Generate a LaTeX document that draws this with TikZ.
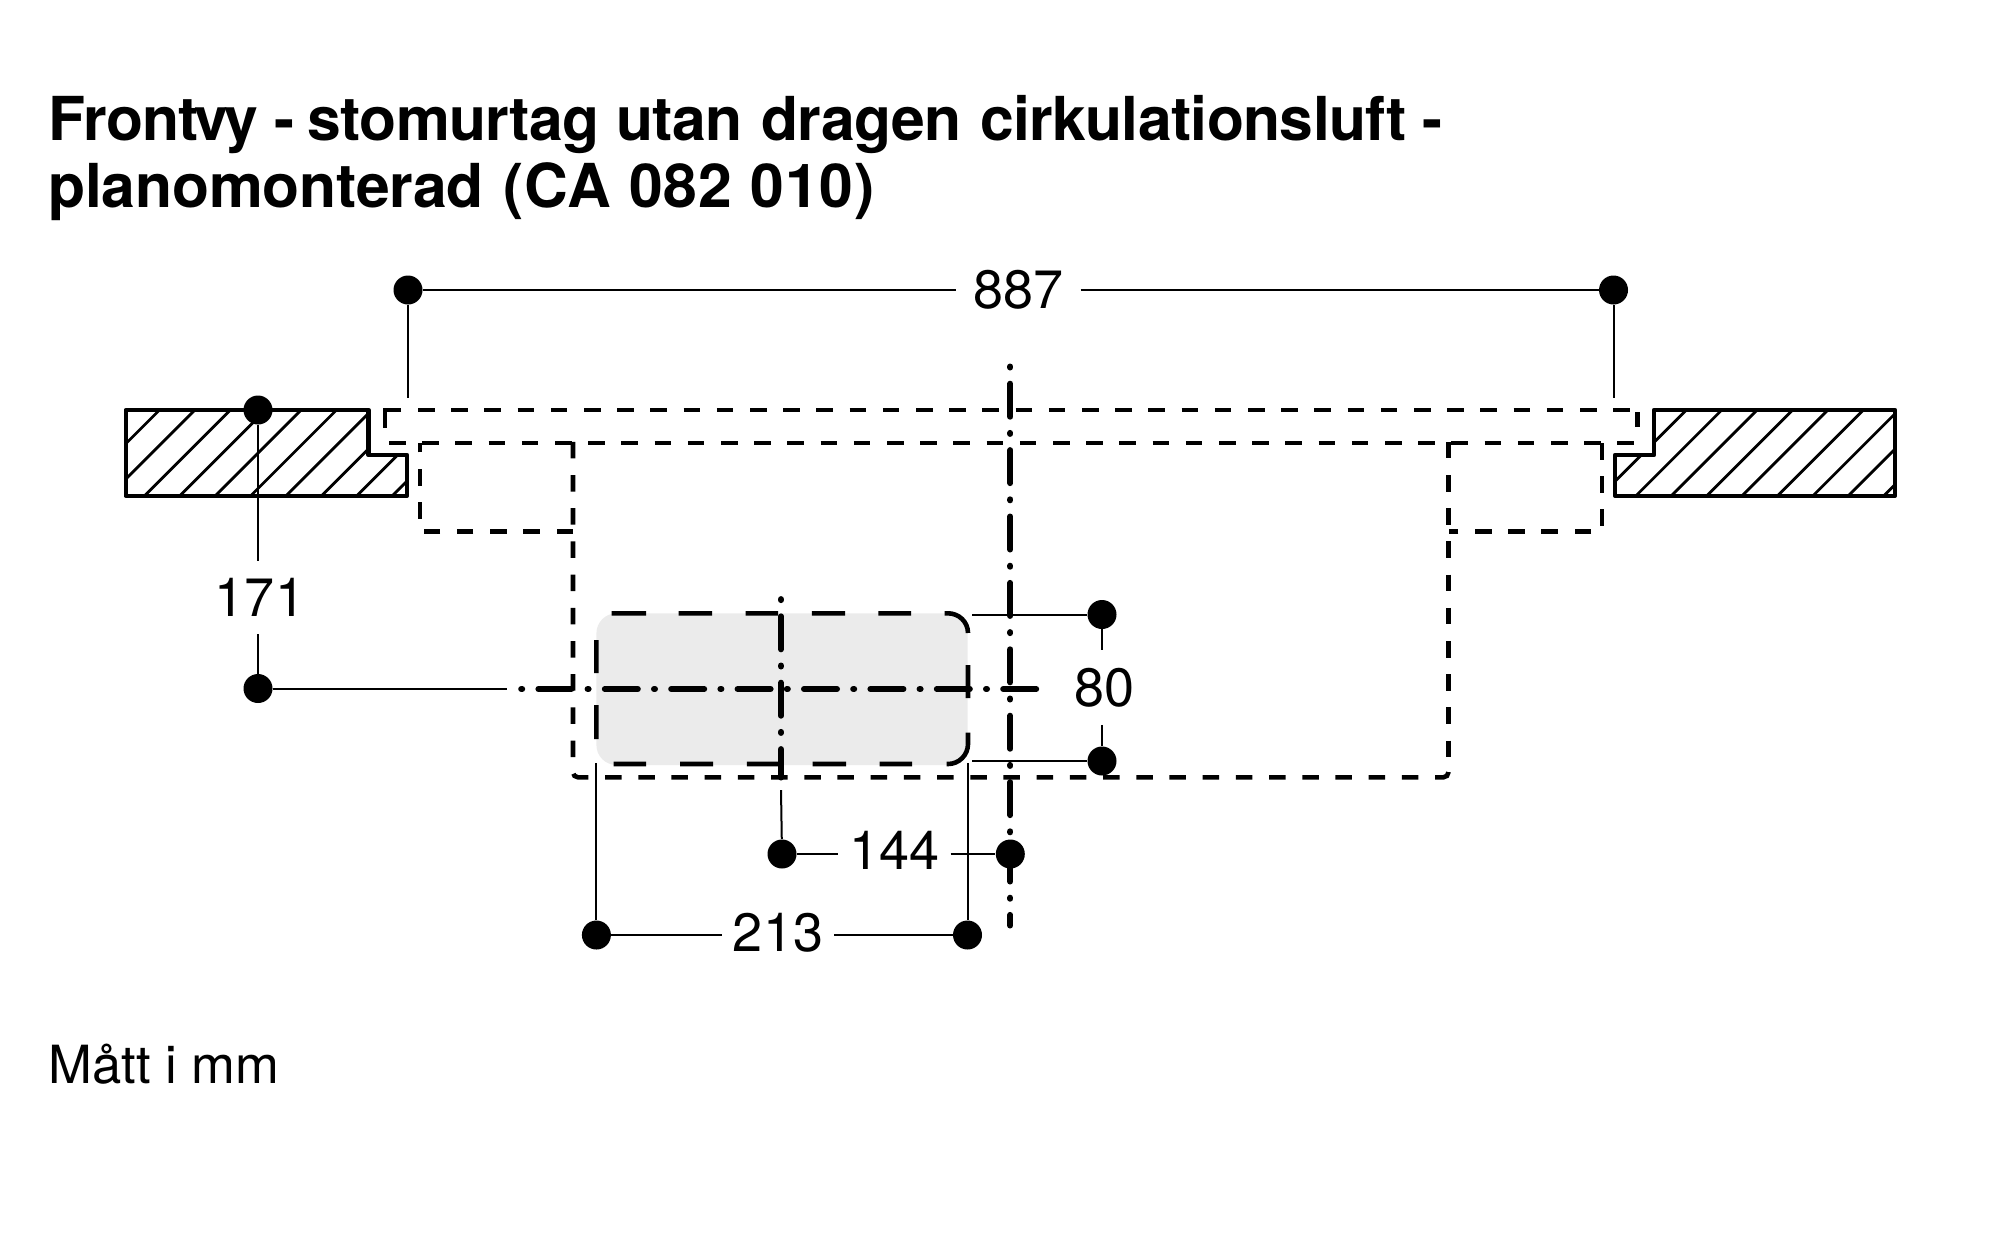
\documentclass[tikz,border=0pt]{standalone}
\usepackage{fontspec}
\setmainfont{TeX Gyre Heros}
\tikzset{
  px/.style={x=0.5pt,y=-0.5pt},
  thinline/.style={line width=1pt,black},
  hatchline/.style={line width=1.4pt,black},
  outline/.style={line width=2.2pt,black,line join=round},
  dashline/.style={line width=2.3pt,black,dash pattern=on 8.25pt off 8.35pt},
  solidstub/.style={line width=2.3pt,black},
  centerline/.style={line width=3pt,black,line cap=round,dash pattern=on 0.5pt off 8.1pt on 16.5pt off 8.1pt},
  dimdot/.style={circle,fill=black,inner sep=0pt,minimum size=14.5pt},
  dimtext/.style={font=\fontsize{27}{30}\selectfont,inner xsep=8.3pt,inner ysep=8.7pt},
  titletext/.style={font=\fontsize{30.3}{33.35}\selectfont\bfseries,align=left,anchor=north west,inner sep=0pt},
  notetext/.style={font=\fontsize{26.3}{30}\selectfont,anchor=base west,inner sep=0pt},
}
\begin{document}
\begin{tikzpicture}[px]
\useasboundingbox (0,0) rectangle (2000,1249);
% title and note
\node[titletext] (title) at (48,95) {{\addfontfeature{LetterSpace=-1.0}Fron\kern-0.7pt t\kern-2pt v\kern-2pt y - \kern-1.5pt stomurtag utan \kern1.3pt dragen \kern1.3pt cirkulationsluft -}\\{\addfontfeature{LetterSpace=-0.3}planomonterad \kern1.3pt}{\addfontfeature{LetterSpace=1.8}(CA 082 010)}};
\node[notetext] (note) at (48,1083.5) {Mått i mm};
% grey field
\fill[black!8,rounded corners=10pt] (596.4,613.3) rectangle (967.6,765);
% wall sections
\begin{scope}
\clip (125.7,410) -- (368.6,410) -- (368.6,455) -- (407,455) -- (407,495.7) -- (125.7,495.7) -- cycle;
\foreach \cc in {569.5,604.9,640.3,675.7,711.1,746.5,781.9,817.3,852.7,888.1}
  \draw[hatchline] ({\cc-400},400) -- ({\cc-500},500);
\end{scope}
\draw[outline] (125.7,410) -- (368.6,410) -- (368.6,455) -- (407,455) -- (407,495.7) -- (125.7,495.7) -- cycle;
\begin{scope}
\clip (1654,410) -- (1895,410) -- (1895,495.7) -- (1615,495.7) -- (1615,455) -- (1654,455) -- cycle;
\foreach \cc in {2096.3,2131.7,2167.1,2202.5,2237.9,2273.3,2308.7,2344.1,2379.5}
  \draw[hatchline] ({\cc-400},400) -- ({\cc-500},500);
\end{scope}
\draw[outline] (1654,410) -- (1895,410) -- (1895,495.7) -- (1615,495.7) -- (1615,455) -- (1654,455) -- cycle;
% hidden contours
\draw[solidstub] (401,410) -- (385,410) -- (385,428);
\draw[dashline] (418,410) -- (1631,410);
\draw[solidstub] (1637.6,412) -- (1637.6,427);
\draw[dashline] (389,443) -- (1634.5,443);
\draw[dashline] (573,531.7) -- (420,531.7) -- (420,443);
\draw[dashline] (1602,443) -- (1602,531.7) -- (1448.6,531.7);
\draw[dashline,rounded corners=2.5pt] (573,441.8) -- (573,777.3) -- (1448.4,777.3) -- (1448.4,772);
\draw[dashline] (1448.4,441.8) -- (1448.4,760);
% cut-out outline, dashed with rounded right corners
\draw[solidstub] (611.7,613.3) -- (646,613.3) (678.6,613.3) -- (712,613.3) (745.6,613.3) -- (778,613.3) (811.8,613.3) -- (845,613.3) (878.4,613.3) -- (911,613.3)
  (944.6,613.3) -- (948,613.3) .. controls (959,613.3) and (968,622) .. (968,633)
  (968,665) -- (968,698)
  (968,732.7) -- (968,744) .. controls (968,755) and (959,764) .. (948,764) -- (946.5,764)
  (879.6,764) -- (912,764) (812.6,764) -- (846,764) (746.8,764) -- (780,764) (680.2,764) -- (713,764) (613.6,764) -- (646,764)
  (596.4,640) -- (596.4,673) (596.4,705) -- (596.4,739);
% centre lines
\draw[centerline] (1010.3,366.5) -- (1010.3,925.5);
\draw[centerline] (781,599.1) -- (781,777.5);
\draw[centerline] (521.2,689) -- (1036.5,689);
% dimension dots
\node[dimdot] (a1) at (408,290) {};
\node[dimdot] (a2) at (1613.5,290) {};
\node[dimdot] (b1) at (258,410) {};
\node[dimdot] (b2) at (258,688.5) {};
\node[dimdot] (c1) at (1102,614.5) {};
\node[dimdot] (c2) at (1102,761) {};
\node[dimdot] (d1) at (782,854) {};
\node[dimdot] (d2) at (1010.3,854) {};
\node[dimdot] (e1) at (596.4,935) {};
\node[dimdot] (e2) at (967.5,935) {};
% dimension texts
\node[dimtext] (t887) at (1018.5,290) {887};
\node[dimtext] (t171) at (260,597.5) {171};
\node[dimtext] (t80) at (1104.5,687.5) {80};
\node[dimtext,inner xsep=5.3pt] (t144) at (894.5,850.5) {144};
\node[dimtext,inner xsep=5.3pt] (t213) at (778,933) {213};
% free ends of the connectors
\coordinate (a1e) at (408,398);
\coordinate (a2e) at (1613.5,398);
\coordinate (b2e) at (507,688.5);
\coordinate (c1e) at (972,614.5);
\coordinate (c2e) at (972,761);
\coordinate (d1e) at (781,790);
\coordinate (e1e) at (596.4,763);
\coordinate (e2e) at (967.5,763);
% connectors
\draw[thinline] (a1) -- (t887);
\draw[thinline] (t887) -- (a2);
\draw[thinline] (a1) -- (a1e);
\draw[thinline] (a2) -- (a2e);
\draw[thinline] (b1) -- (b1 |- t171.north);
\draw[thinline] (b2 |- t171.south) -- (b2);
\draw[thinline] (b2) -- (b2e);
\draw[thinline] (c1) -- (c1 |- t80.north);
\draw[thinline] (c2 |- t80.south) -- (c2);
\draw[thinline] (c1) -- (c1e);
\draw[thinline] (c2) -- (c2e);
\draw[thinline] (d1) -- (d1 -| t144.west);
\draw[thinline] (d2 -| t144.east) -- (d2);
\draw[thinline] (d1) -- (d1e);
\draw[thinline] (e1) -- (e1 -| t213.west);
\draw[thinline] (e2 -| t213.east) -- (e2);
\draw[thinline] (e1) -- (e1e);
\draw[thinline] (e2) -- (e2e);
\end{tikzpicture}
\end{document}
